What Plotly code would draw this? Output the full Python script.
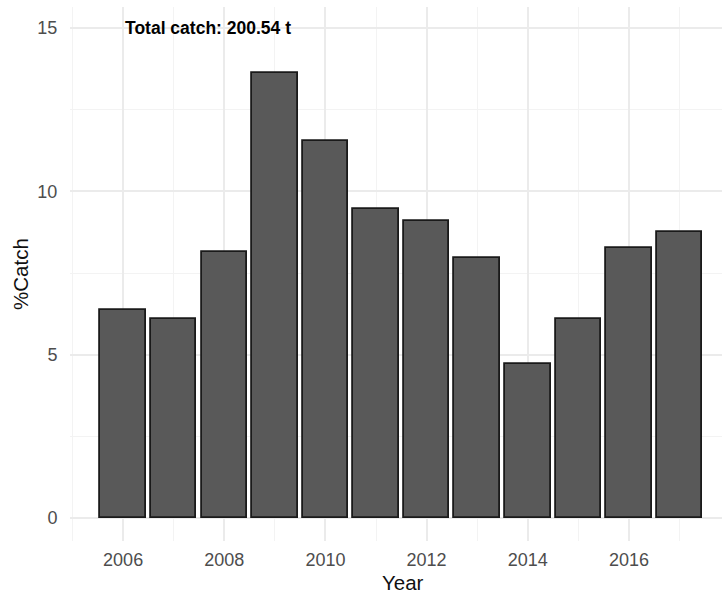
import plotly.graph_objects as go

years = [2006, 2007, 2008, 2009, 2010, 2011, 2012, 2013, 2014, 2015, 2016, 2017]
pct_catch = [6.36, 6.09, 8.13, 13.62, 11.53, 9.45, 9.08, 7.95, 4.71, 6.09, 8.26, 8.75]
x_ticks = [2006, 2008, 2010, 2012, 2014, 2016]
y_ticks = [0, 5, 10, 15]
note_text = "Total catch: 200.54 t"

L, R, T, B = 70, 0, 7, 54
W, H = 722, 595
pw, ph = W - L - R, H - T - B

fig = go.Figure()
fig.add_trace(go.Bar(
    x=years, y=pct_catch, width=0.9,
    marker=dict(color="#595959", line=dict(color="#1a1a1a", width=1.8)),
    showlegend=False,
))

fig.add_annotation(x=2007.68, y=15, xref="x", yref="y", text="<b>" + note_text + "</b>",
                   showarrow=False, font=dict(family="Liberation Sans, Arial", size=17.5, color="#000000"))
fig.add_annotation(xref="paper", yref="paper", x=(403 - L) / pw, y=-(582 - (H - B)) / ph,
                   xanchor="center", yanchor="middle", text="Year", showarrow=False,
                   font=dict(family="Liberation Sans, Arial", size=20.5, color="#111111"))
fig.add_annotation(xref="paper", yref="paper", x=-(L - 20) / pw, y=0.5,
                   xanchor="center", yanchor="middle", text="%Catch", showarrow=False, textangle=-90,
                   font=dict(family="Liberation Sans, Arial", size=20.5, color="#111111"))

fig.update_layout(
    width=W, height=H,
    margin=dict(l=L, r=R, t=T, b=B, autoexpand=False),
    plot_bgcolor="white", paper_bgcolor="white",
    font=dict(family="Liberation Sans, Arial", size=18, color="#4d4d4d"),
    bargap=0,
)

fig.update_xaxes(
    range=[2004.95, 2017.84], tickvals=x_ticks, ticktext=[str(v) for v in x_ticks],
    showgrid=True, gridcolor="#ebebeb", gridwidth=1.5, zeroline=False, showline=False,
    ticks="outside", ticklen=2, tickcolor="rgba(0,0,0,0)", automargin=False,
    tickfont=dict(size=18, color="#4d4d4d"),
    minor=dict(tickvals=[2005, 2007, 2009, 2011, 2013, 2015, 2017], showgrid=True,
               gridcolor="#f3f3f3", gridwidth=1),
)
fig.update_yaxes(
    range=[-0.70, 15.64], tickvals=y_ticks,
    showgrid=True, gridcolor="#ebebeb", gridwidth=1.5, zeroline=False, showline=False,
    ticks="outside", ticklen=8, tickcolor="rgba(0,0,0,0)", automargin=False,
    tickfont=dict(size=18, color="#4d4d4d"),
    minor=dict(tickvals=[2.5, 7.5, 12.5], showgrid=True, gridcolor="#f3f3f3", gridwidth=1),
)

fig.write_html("out.html", config={"displayModeBar": False},
               post_script="document.body.style.margin='0';document.body.style.padding='0';")
